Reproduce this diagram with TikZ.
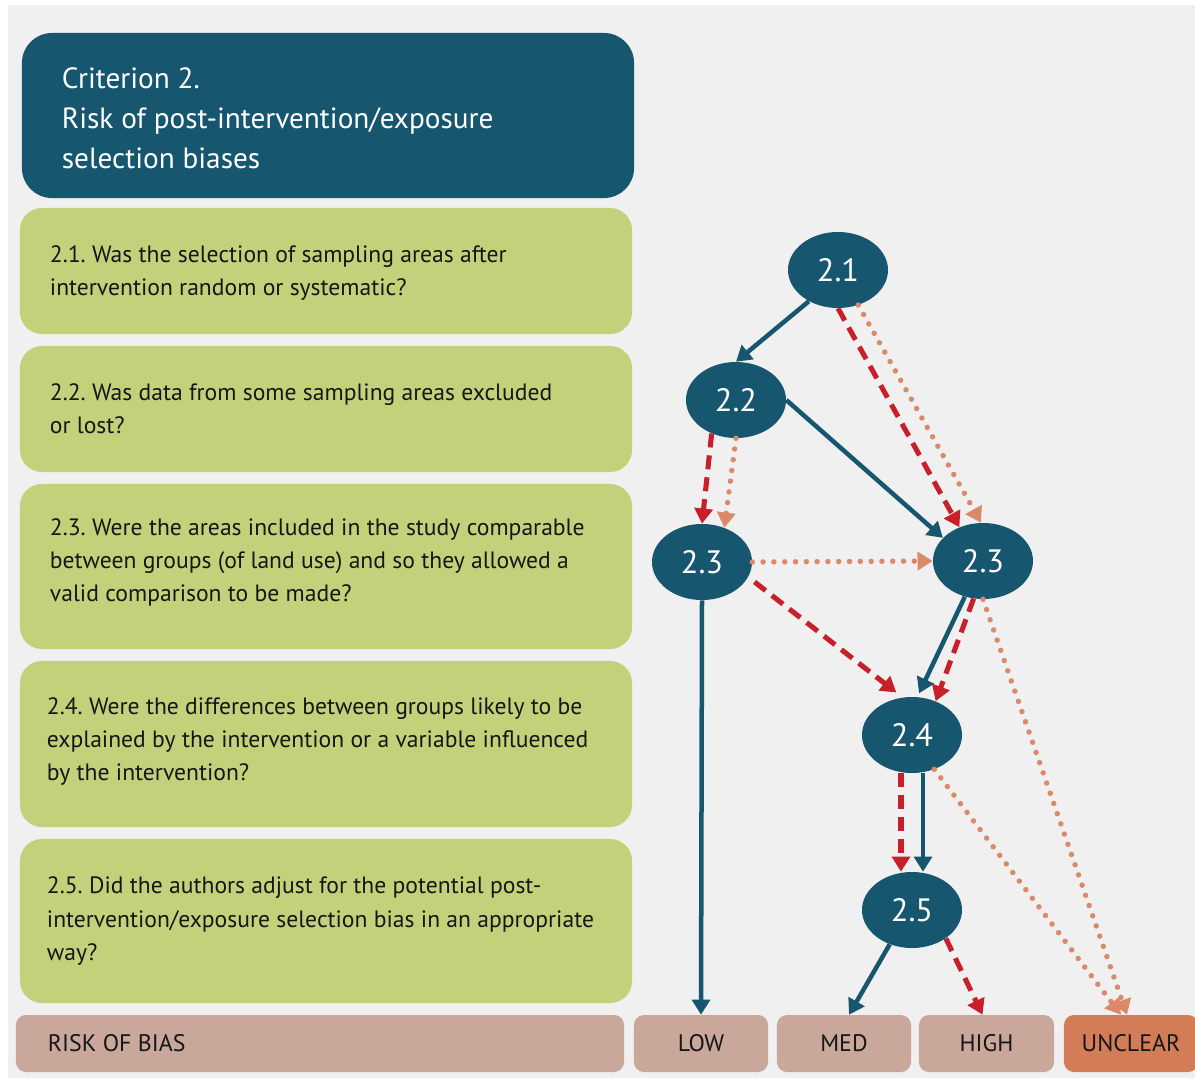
\documentclass[tikz,border=0pt]{standalone}
\usepackage{fontspec}
\setmainfont{PT Sans}
\usetikzlibrary{shapes.geometric,arrows.meta}
\definecolor{cTeal}{HTML}{17566F}
\definecolor{cRed}{HTML}{C8202A}
\definecolor{cOrange}{HTML}{DA8A6A}
\definecolor{cGreen}{HTML}{C3D27A}
\definecolor{cBox}{HTML}{C9A89B}
\definecolor{cUnclear}{HTML}{D27C58}
\definecolor{cBg}{HTML}{F0F0F0}
\definecolor{cText}{HTML}{161616}
\begin{document}
\frenchspacing
\begin{tikzpicture}[x=0.025cm,y=-0.025cm,
  hdr/.style={rectangle, rounded corners=0.75cm, fill=cTeal,
    minimum width=15.3cm, minimum height=4.125cm, inner sep=0pt},
  hdrtext/.style={anchor=west, inner sep=0pt, text=white, align=left,
    font=\fontsize{20.8}{28.5}\selectfont},
  qbox/.style={rectangle, rounded corners=0.55cm, fill=cGreen,
    minimum width=15.3cm, inner sep=0pt},
  qtext/.style={anchor=west, inner sep=0pt, text=cText, align=left,
    font=\fontsize{16.8}{23.5}\selectfont},
  rbox/.style={rectangle, rounded corners=0.25cm, fill=cBox, text=cText,
    minimum height=1.425cm, inner sep=0pt, font=\fontsize{17}{20}\selectfont},
  qnode/.style={ellipse, fill=cTeal, text=white, minimum width=2.5cm,
    minimum height=1.9cm, inner sep=0pt, font=\fontsize{23}{25}\selectfont},
  tip/.style={-{Triangle[length=0.38cm,width=0.45cm]}},
  solidarr/.style={draw=cTeal, line width=3.2pt, tip},
  dasharr/.style={draw=cRed, line width=3.6pt, dash pattern=on 0.35cm off 0.2cm, tip},
  dotarr/.style={draw=cOrange, line width=3.9pt, line cap=round,
    dash pattern=on 0pt off 0.27cm, tip}
]
\path[use as bounding box] (0,0) rectangle (1195,1078);
\fill[white] (0,0) rectangle (1195,1078);
\fill[cBg] (8,5) rectangle (1195,1078);

% header
\node[hdr] (hdr) at (328,115.5) {};
\node[hdrtext] (hdrt) at ([xshift=1cm, yshift=-0.07cm]hdr.west) {Criterion 2.\\Risk of post-intervention/exposure\\selection biases};

% question boxes
\node[qbox, minimum height=3.15cm] (q1) at (326,271) {};
\node[qtext] (t1) at ([xshift=0.75cm, yshift=-0.045cm]q1.west)
  {2.1. Was the selection of sampling areas after\\intervention random or systematic?};
\node[qbox, minimum height=3.15cm] (q2) at (326,409) {};
\node[qtext] (t2) at ([xshift=0.75cm]q2.west)
  {2.2. Was data from some sampling areas excluded\\or lost?};
\node[qbox, minimum height=4.125cm] (q3) at (326,566.5) {};
\node[qtext] (t3) at ([xshift=0.75cm, yshift=0.1cm]q3.west)
  {2.3. Were the areas included in the study comparable\\between groups (of land use) and so they allowed a\\valid comparison to be made?};
\node[qbox, minimum height=4.15cm] (q4) at (326,744) {};
\node[qtext] (t4) at ([xshift=0.675cm, yshift=0.07cm]q4.west)
  {2.4. Were the differences between groups likely to be\\explained by the intervention or a variable influenced\\by the intervention?};
\node[qbox, minimum height=4.1cm] (q5) at (326,921) {};
\node[qtext] (t5) at ([xshift=0.675cm]q5.west)
  {2.5. Did the authors adjust for the potential post-\\intervention/exposure selection bias in an appropriate\\way?};

% risk row
\node[rbox, minimum width=15.2cm] (rob) at (320,1043.5) {};
\node[anchor=west, inner sep=0pt, text=cText, font=\fontsize{17}{20}\selectfont] (robt) at ([xshift=0.8cm]rob.west) {RISK OF BIAS};
\node[rbox, minimum width=3.35cm] (low) at (701,1043.5) {LOW};
\node[rbox, minimum width=3.35cm] (med) at (844,1043.5) {MED};
\node[rbox, minimum width=3.375cm] (high) at (986.5,1043.5) {HIGH};
\node[rbox, minimum width=3.35cm, fill=cUnclear] (unc) at (1131,1043.5) {UNCLEAR};

% decision nodes
\node[qnode] (n21) at (838,270) {2.1};
\node[qnode] (n22) at (736,400) {2.2};
\node[qnode] (n23L) at (702,562) {2.3};
\node[qnode] (n23R) at (983,561) {2.3};
\node[qnode] (n24) at (912,735) {2.4};
\node[qnode] (n25) at (912,910) {2.5};

% connectors
\draw[solidarr] (n21.-133) -- (n22.north);
\draw[dasharr] (n21.south) -- (n23R.125);
\draw[dotarr] (n21.-60) -- ([xshift=-0.05cm]n23R.north);
\draw[dasharr] (n22.-126) -- (n23L.north);
\draw[dotarr] (n22.south) -- (n23L.57);
\draw[solidarr] (n22.east) -- (n23R.150);
\draw[dotarr] (n23L.east) -- (n23R.west);
\draw[dasharr, shorten <=0.2cm, shorten >=0.2cm] (n23L.-18) -- (n24.104);
\draw[solidarr, shorten >=0.1cm] (n23R.-117) -- (n24.82);
\draw[dasharr] (n23R.-104) -- (n24.55);
\draw[dotarr] (n23R.south) -- ([xshift=-0.1cm]unc.north);
\draw[dotarr] (n24.-57) -- ([xshift=-0.25cm]unc.north);
\draw[solidarr] (n23L.south) -- (low.north);
\draw[dasharr] ([xshift=-0.275cm]n24.south) -- ([xshift=-0.275cm]n25.north);
\draw[solidarr] ([xshift=0.275cm]n24.south) -- ([xshift=0.275cm]n25.north);
\draw[solidarr] (n25.-123) -- ([xshift=0.125cm]med.north);
\draw[dasharr] (n25.-40) -- ([xshift=-0.1cm]high.north);
\end{tikzpicture}
\end{document}
